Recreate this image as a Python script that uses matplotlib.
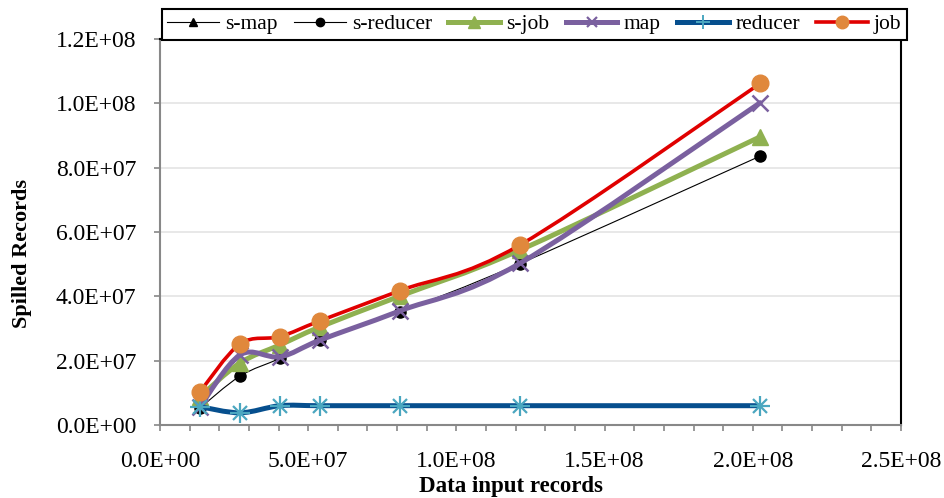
import numpy as np
import matplotlib
matplotlib.use("Agg")
import matplotlib.pyplot as plt
from matplotlib.path import Path
from matplotlib.patches import PathPatch
from matplotlib.lines import Line2D
from matplotlib.ticker import FuncFormatter, MultipleLocator

plt.rcParams['font.family'] = ['Liberation Serif', 'DejaVu Serif']

# data input records (x) and spilled records per series
records = [1.35e7, 2.7e7, 4.05e7, 5.4e7, 8.1e7, 1.215e8, 2.025e8]
s_map = [8.8e6, 1.93e7, 2.49e7, 3.05e7, 4.01e7, 5.44e7, 8.96e7]
s_reducer = [5.3e6, 1.52e7, 2.07e7, 2.64e7, 3.52e7, 5.02e7, 8.36e7]
s_job = [8.8e6, 1.93e7, 2.49e7, 3.05e7, 4.01e7, 5.44e7, 8.96e7]
map_ = [5.7e6, 2.18e7, 2.12e7, 2.64e7, 3.55e7, 5.03e7, 1.002e8]
reducer = [5.7e6, 3.8e6, 6.0e6, 6.0e6, 6.0e6, 6.0e6, 6.0e6]
job = [1.035e7, 2.52e7, 2.75e7, 3.24e7, 4.18e7, 5.6e7, 1.062e8]

labels = ['s-map', 's-reducer', 's-job', 'map', 'reducer', 'job']


def smooth_path(x, y):
    # excel-like smoothed line: bezier segments through the points
    pts = np.column_stack([x, y])
    n = len(pts)
    verts = [pts[0]]
    codes = [Path.MOVETO]
    for i in range(n - 1):
        p0 = pts[max(i - 1, 0)]
        p1 = pts[i]
        p2 = pts[i + 1]
        p3 = pts[min(i + 2, n - 1)]
        verts += [p1 + (p2 - p0) / 6, p2 - (p3 - p1) / 6, p2]
        codes += [Path.CURVE4] * 3
    return Path(verts, codes)


fig = plt.figure(figsize=(9.45, 4.98), dpi=100)
ax = fig.add_axes([160 / 945, 1 - 425 / 498, 741 / 945, 386 / 498])

# series: values, line color, line width, marker, marker face, marker size
styles = [
    (s_map, 'black', 0.8, '^', 'black', 7),
    (s_reducer, 'black', 0.8, 'o', 'black', 8),
    (s_job, '#8FB150', 3.6, '^', '#8FB150', 11),
    (map_, '#7A609F', 3.6, 'x', '#7A609F', 11),
    (reducer, '#064F8E', 3.6, '*', '#4BA7C0', 14),
    (job, '#E00000', 2.6, 'o', '#E0883C', 12),
]

handles = []
for k, (vals, lc, lw, mk, mc, ms) in enumerate(styles):
    patch = PathPatch(smooth_path(records, vals), facecolor='none', edgecolor=lc,
                      linewidth=lw, transform=ax.transData, zorder=3 + k, capstyle='round')
    ax.add_patch(patch)
    if mk == '*':
        # asterisk: draw as plus + x
        ax.plot(records, vals, linestyle='none', marker='+', markersize=ms,
                markeredgecolor=mc, markeredgewidth=1.6, zorder=3.5 + k)
        ax.plot(records, vals, linestyle='none', marker='x', markersize=ms * 0.75,
                markeredgecolor=mc, markeredgewidth=1.6, zorder=3.5 + k)
        h = Line2D([], [], color=lc, linewidth=lw, marker='+', markersize=ms * 0.7,
                   markeredgecolor=mc, markeredgewidth=1.4)
    elif mk == 'x':
        ax.plot(records, vals, linestyle='none', marker='x', markersize=ms,
                markeredgecolor=mc, markeredgewidth=1.8, zorder=3.5 + k)
        h = Line2D([], [], color=lc, linewidth=lw, marker='x', markersize=ms * 0.7,
                   markeredgecolor=mc, markeredgewidth=1.6)
    else:
        ax.plot(records, vals, linestyle='none', marker=mk, markersize=ms,
                markerfacecolor=mc, markeredgecolor=mc, zorder=3.5 + k)
        h = Line2D([], [], color=lc, linewidth=lw, marker=mk, markersize=ms * 0.75,
                   markerfacecolor=mc, markeredgecolor=mc)
    handles.append(h)

ax.set_xlim(0, 2.5e8)
ax.set_ylim(0, 1.2e8)
ax.xaxis.set_major_locator(MultipleLocator(5e7))
ax.xaxis.set_minor_locator(MultipleLocator(1e7))
ax.yaxis.set_major_locator(MultipleLocator(2e7))
fmt = FuncFormatter(lambda v, p: '%.1E' % v)
ax.xaxis.set_major_formatter(fmt)
ax.yaxis.set_major_formatter(fmt)

ax.grid(axis='y', color='#E6E6E6', linewidth=1.3, zorder=0)
ax.set_axisbelow(True)

for side in ['left', 'bottom']:
    ax.spines[side].set_color('#888888')
    ax.spines[side].set_linewidth(1.5)
for side in ['top', 'right']:
    ax.spines[side].set_color('black')
    ax.spines[side].set_linewidth(1.5)

ax.tick_params(axis='y', which='major', direction='out', length=4, width=1.2,
               color='#888888', labelsize=17, pad=13)
ax.tick_params(axis='x', which='both', direction='out', length=4, width=1.2,
               color='#888888', labelsize=17, pad=15)

fig.text(22 / 945, 1 - 253 / 498, 'Spilled Records', rotation=90, ha='center',
         va='center', fontsize=16, fontweight='bold')
fig.text(511 / 945, 1 - 492 / 498, 'Data input records', ha='center',
         va='baseline', fontsize=16.5, fontweight='bold')

leg = fig.legend(handles, labels, loc='upper left', ncol=6, mode='expand',
                 bbox_to_anchor=(162 / 945, 1 - 42 / 498, 745 / 945, 33 / 498),
                 fontsize=15.5, frameon=True, fancybox=False, framealpha=1,
                 edgecolor='black', handlelength=2.4, handletextpad=0.3,
                 columnspacing=0.8, borderpad=0.25, borderaxespad=0)
leg.get_frame().set_linewidth(1.5)
leg.set_zorder(20)

fig.savefig('out.png', dpi=100)
